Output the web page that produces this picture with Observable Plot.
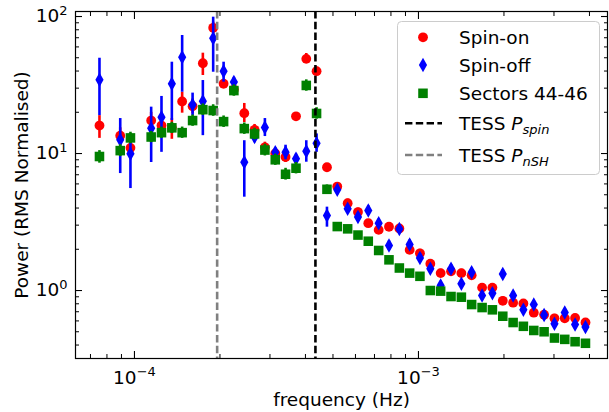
<!DOCTYPE html>
<html><head><meta charset="utf-8">
<script src="https://cdn.jsdelivr.net/npm/d3@7"></script>
<script src="https://cdn.jsdelivr.net/npm/@observablehq/plot@0.6"></script>
<style>
body{margin:0;background:#fff;}
#chart{position:relative;width:609px;height:412px;}
</style></head><body><div id="chart"></div><script>
// ---- data ----
const freq = [7.53e-5, 8.91e-5, 9.68e-5, 1.145e-4, 1.245e-4, 1.354e-4, 1.472e-4, 1.602e-4, 1.741e-4, 1.893e-4,
  2.06e-4, 2.239e-4, 2.436e-4, 2.648e-4, 2.879e-4, 3.132e-4, 3.404e-4, 3.705e-4, 4.027e-4, 4.377e-4,
  4.762e-4, 5.177e-4, 5.632e-4, 6.124e-4, 6.657e-4, 7.242e-4, 7.874e-4, 8.565e-4, 9.31e-4, 1.012e-3,
  1.101e-3, 1.197e-3, 1.302e-3, 1.416e-3, 1.539e-3, 1.675e-3, 1.821e-3, 1.981e-3, 2.154e-3, 2.341e-3,
  2.547e-3, 2.769e-3, 3.012e-3, 3.274e-3, 3.56e-3, 3.873e-3];

const spinOn = [16.0, 13.5, 11.0, 17.4, 16.0, 15.4, 24.0, 22.1, 45.6, 82.7, 32.3, 29.3, 19.7, 14.9, 11.1, 10.0, 9.43, 18.7, 49.1, 39.9,
  7.94, 5.74, 4.34, 3.74, 3.10, 2.77, 2.92, 2.84, 1.98, 1.87, 1.57, 1.34, 1.38, 1.34, 1.29, 1.05, 1.05, 0.841, 0.815, 0.804,
  0.689, 0.666, 0.627, 0.627, 0.630, 0.584];
const spinOnLo = [12.9, 11.8, 9.8, 15.0, 14.0, 12.7, 19.7, 19.5, 37.1, 75.0, 30.0, 27.0, 16.8, 13.6, 10.2, 9.2, 8.6, 17.8, 45.4, 37.1,
  7.5, 5.4, 4.05, 3.5, 2.9, 2.6, 2.75, 2.65, 1.85, 1.75, 1.47, 1.25, 1.29, 1.25, 1.2, 0.98, 0.98, 0.79, 0.76, 0.75,
  0.645, 0.62, 0.585, 0.585, 0.59, 0.545];
const spinOnHi = [18.9, 15.4, 12.4, 20.0, 18.3, 18.0, 28.0, 25.0, 54.0, 91.0, 34.8, 31.8, 23.2, 16.3, 12.1, 10.9, 10.3, 19.6, 53.7, 42.7,
  8.4, 6.1, 4.65, 4.0, 3.3, 2.95, 3.1, 3.03, 2.12, 2.0, 1.68, 1.43, 1.47, 1.43, 1.38, 1.12, 1.12, 0.9, 0.87, 0.86,
  0.735, 0.71, 0.67, 0.67, 0.67, 0.625];

const spinOff = [34.5, 12.6, 9.95, 15.3, 18.4, 32.3, 50.5, 22.7, 24.1, 69.4, 39.9, 33.2, 8.64, 13.2, 15.5, 10.2, 10.2, 9.15, 10.4, 11.9,
  3.53, 5.43, 3.95, 3.44, 3.84, 3.10, 2.13, 2.81, 2.17, 1.73, 1.44, 1.09, 1.44, 1.12, 1.36, 0.919, 0.956, 1.32, 0.919, 0.723,
  0.79, 0.663, 0.571, 0.691, 0.565, 0.541];
const spinOffLo = [18.9, 7.14, 5.55, 8.6, 10.2, 17.4, 28.0, 18.9, 13.5, 39.2, 33.2, 30.7, 4.8, 12.0, 13.3, 9.4, 9.0, 8.5, 8.64, 10.2,
  2.90, 5.0, 3.65, 3.2, 3.55, 2.88, 1.97, 2.6, 2.0, 1.6, 1.34, 1.01, 1.34, 1.04, 1.26, 0.855, 0.89, 1.23, 0.855, 0.67,
  0.735, 0.615, 0.53, 0.64, 0.525, 0.5];
const spinOffHi = [49.6, 18.0, 14.0, 21.8, 26.1, 46.4, 72.7, 27.6, 34.1, 98.9, 46.4, 36.0, 12.4, 14.5, 18.0, 11.0, 11.5, 9.9, 12.4, 13.9,
  4.06, 5.9, 4.25, 3.7, 4.15, 3.33, 2.3, 3.02, 2.34, 1.86, 1.55, 1.17, 1.55, 1.2, 1.46, 0.985, 1.025, 1.42, 0.985, 0.775,
  0.845, 0.71, 0.61, 0.74, 0.605, 0.58];

const sectors = [9.51, 10.5, 13.0, 13.2, 14.2, 15.4, 14.2, 17.4, 20.9, 20.6, 17.1, 28.8, 15.2, 13.9, 10.6, 9.0, 7.06, 7.81, 31.4, 19.6,
  5.48, 2.93, 2.82, 2.54, 2.29, 1.96, 1.675, 1.46, 1.34, 1.27, 1.0, 0.99, 0.904, 0.894, 0.79, 0.751, 0.723, 0.649, 0.584, 0.548,
  0.511, 0.50, 0.45, 0.44, 0.423, 0.412];
const sectorsLo = [8.5, 9.5, 11.8, 12.0, 12.9, 14.0, 12.9, 15.8, 19.0, 18.7, 15.5, 26.2, 13.8, 12.6, 9.6, 8.2, 6.4, 7.1, 28.5, 17.8,
  5.1, 2.8, 2.7, 2.44, 2.2, 1.88, 1.61, 1.4, 1.29, 1.22, 0.96, 0.95, 0.87, 0.86, 0.76, 0.72, 0.695, 0.625, 0.562, 0.527,
  0.492, 0.481, 0.433, 0.423, 0.407, 0.396];
const sectorsHi = [10.5, 11.6, 14.3, 14.5, 15.6, 16.9, 15.6, 19.1, 23.0, 22.7, 18.8, 31.7, 16.7, 15.3, 11.7, 9.9, 7.8, 8.6, 34.5, 21.6,
  5.9, 3.07, 2.95, 2.66, 2.4, 2.05, 1.75, 1.53, 1.4, 1.33, 1.04, 1.03, 0.94, 0.93, 0.82, 0.78, 0.75, 0.675, 0.607, 0.57,
  0.531, 0.52, 0.468, 0.458, 0.44, 0.428];

const tessSpinFreq = [4.337e-4];
const tessNSHFreq = [1.955e-4];

const seriesNames = ["Spin-on", "Spin-off", "Sectors 44-46"];
const lineNames = ["TESS ", "P", "spin", "nSH"];
const xMajor = [1e-4, 1e-3];
const xTickLabels = ["10^\u22124", "10^\u22123"];
const xMinor = [7e-5, 8e-5, 9e-5, 2e-4, 3e-4, 4e-4, 5e-4, 6e-4, 7e-4, 8e-4, 9e-4, 2e-3, 3e-3, 4e-3];
const yMajor = [1, 10, 100];
const yTickLabels = ["10^0", "10^1", "10^2"];
const yMinor = [0.4, 0.5, 0.6, 0.7, 0.8, 0.9, 2, 3, 4, 5, 6, 7, 8, 9, 20, 30, 40, 50, 60, 70, 80, 90];
const xLabel = "frequency (Hz)";
const yLabel = "Power (RMS Normalised)";

// ---- build ----
const rows = freq.map((f, i) => ({
  f, on: spinOn[i], onLo: spinOnLo[i], onHi: spinOnHi[i],
  off: spinOff[i], offLo: spinOffLo[i], offHi: spinOffHi[i],
  sec: sectors[i], secLo: sectorsLo[i], secHi: sectorsHi[i]
}));

const RED = "#ff0000", BLUE = "#0000ff", GREEN = "#008000", GRAY = "#808080";
const FONT = "DejaVu Sans";
const FS = 18.5;

const thinDiamond = {
  draw(ctx, size) {
    const r = Math.sqrt(size / Math.PI);
    const hy = r * 1.45, hx = r * 0.82;
    ctx.moveTo(0, -hy); ctx.lineTo(hx, 0); ctx.lineTo(0, hy); ctx.lineTo(-hx, 0); ctx.closePath();
  }
};

const fmtX = d => xTickLabels[xMajor.indexOf(d)];
const fmtY = d => yTickLabels[yMajor.indexOf(d)];

const svg = Plot.plot({
  width: 609, height: 412,
  marginLeft: 75, marginRight: 2, marginTop: 11, marginBottom: 54,
  style: {fontFamily: FONT, fontSize: FS + "px", background: "white", color: "black"},
  x: {type: "log", domain: [6.2e-5, 4.63e-3]},
  y: {type: "log", domain: [0.319, 108.8]},
  marks: [
    Plot.ruleX(rows, {x: "f", y1: "onLo", y2: "onHi", stroke: RED, strokeWidth: 2.6}),
    Plot.dot(rows, {x: "f", y: "on", r: 4.9, fill: RED, symbol: "circle"}),
    Plot.ruleX(rows, {x: "f", y1: "offLo", y2: "offHi", stroke: BLUE, strokeWidth: 2.6}),
    Plot.dot(rows, {x: "f", y: "off", r: 5, fill: BLUE, symbol: thinDiamond}),
    Plot.ruleX(rows, {x: "f", y1: "secLo", y2: "secHi", stroke: GREEN, strokeWidth: 2.6}),
    Plot.dot(rows, {x: "f", y: "sec", r: 5.4, fill: GREEN, symbol: "square"}),
    Plot.ruleX(tessSpinFreq, {x: d => d, stroke: "black", strokeWidth: 2.6, strokeDasharray: "7.4,3.4"}),
    Plot.ruleX(tessNSHFreq, {x: d => d, stroke: GRAY, strokeWidth: 2.6, strokeDasharray: "7.4,3.4"}),
    Plot.frame({stroke: "black", strokeWidth: 1.2}),
    // inward ticks on all four sides
    Plot.axisX(xMajor, {anchor: "bottom", tickSize: -7, fill: "none", label: null, strokeWidth: 1.1}),
    Plot.axisX(xMinor, {anchor: "bottom", tickSize: -4, fill: "none", label: null, strokeWidth: 1}),
    Plot.axisX(xMajor, {anchor: "top", tickSize: -7, fill: "none", label: null, strokeWidth: 1.1}),
    Plot.axisX(xMinor, {anchor: "top", tickSize: -4, fill: "none", label: null, strokeWidth: 1}),
    Plot.axisY(yMajor, {anchor: "left", tickSize: -7, fill: "none", label: null, strokeWidth: 1.1}),
    Plot.axisY(yMinor, {anchor: "left", tickSize: -4, fill: "none", label: null, strokeWidth: 1}),
    Plot.axisY(yMajor, {anchor: "right", tickSize: -7, fill: "none", label: null, strokeWidth: 1.1}),
    Plot.axisY(yMinor, {anchor: "right", tickSize: -4, fill: "none", label: null, strokeWidth: 1}),
    // labels
    Plot.axisX(xMajor, {anchor: "bottom", tickSize: 0, tickPadding: 12, tickFormat: fmtX, label: null, fontSize: FS}),
    Plot.axisY(yMajor, {anchor: "left", tickSize: 0, tickPadding: 8, tickFormat: fmtY, label: null, fontSize: FS}),
    Plot.text([xLabel], {frameAnchor: "bottom", dy: 42, text: d => d, fontSize: FS, textAnchor: "middle", lineAnchor: "middle"}),
    Plot.text([yLabel], {frameAnchor: "left", dx: -53, rotate: -90, text: d => d, fontSize: FS, textAnchor: "middle", lineAnchor: "middle"})
  ]
});

// superscript exponents in tick labels
d3.select(svg).selectAll('g[aria-label="x-axis tick label"] text, g[aria-label="y-axis tick label"] text').each(function () {
  const t = this.textContent;
  if (!t.includes("^")) return;
  const [b, e] = t.split("^");
  const s = d3.select(this);
  s.text(null);
  s.append("tspan").text(b);
  s.append("tspan").attr("dy", "-0.6em").attr("font-size", "13px").text(e);
});

// legend
const lg = d3.select(svg).append("g").attr("font-family", FONT).attr("font-size", FS).attr("text-anchor", "start");
lg.append("rect").attr("x", 397.5).attr("y", 21.5).attr("width", 202).attr("height", 153).attr("rx", 4)
  .attr("fill", "white").attr("fill-opacity", 0.8).attr("stroke", "#cccccc").attr("stroke-width", 1);
const mx = 423, tx = 459;
const rowY = [37.3, 65, 93.3, 123.3, 155];
lg.append("circle").attr("cx", mx).attr("cy", rowY[0]).attr("r", 4.9).attr("fill", RED);
lg.append("path").attr("transform", `translate(${mx},${rowY[1]})`).attr("d", d3.symbol(thinDiamond, Math.PI * 25)()).attr("fill", BLUE);
lg.append("path").attr("transform", `translate(${mx},${rowY[2]})`).attr("d", d3.symbol(d3.symbolSquare, Math.PI * 5.4 * 5.4)()).attr("fill", GREEN);
lg.append("line").attr("x1", 405).attr("x2", 442).attr("y1", rowY[3]).attr("y2", rowY[3]).attr("stroke", "black").attr("stroke-width", 2.6).attr("stroke-dasharray", "7.4,3.4");
lg.append("line").attr("x1", 405).attr("x2", 442).attr("y1", rowY[4]).attr("y2", rowY[4]).attr("stroke", GRAY).attr("stroke-width", 2.6).attr("stroke-dasharray", "7.4,3.4");
for (let i = 0; i < 3; i++) {
  lg.append("text").attr("x", tx).attr("y", rowY[i] + 7).text(seriesNames[i]);
}
[[rowY[3] + 6.7, lineNames[2]], [rowY[4] + 7.2, lineNames[3]]].forEach(([y, sub]) => {
  const t = lg.append("text").attr("x", tx).attr("y", y);
  t.append("tspan").text(lineNames[0]);
  t.append("tspan").attr("font-style", "italic").text(lineNames[1]);
  t.append("tspan").attr("dy", "0.3em").attr("font-size", "13px").attr("font-style", "italic").text(sub);
});

document.getElementById("chart").appendChild(svg);
</script></body></html>
